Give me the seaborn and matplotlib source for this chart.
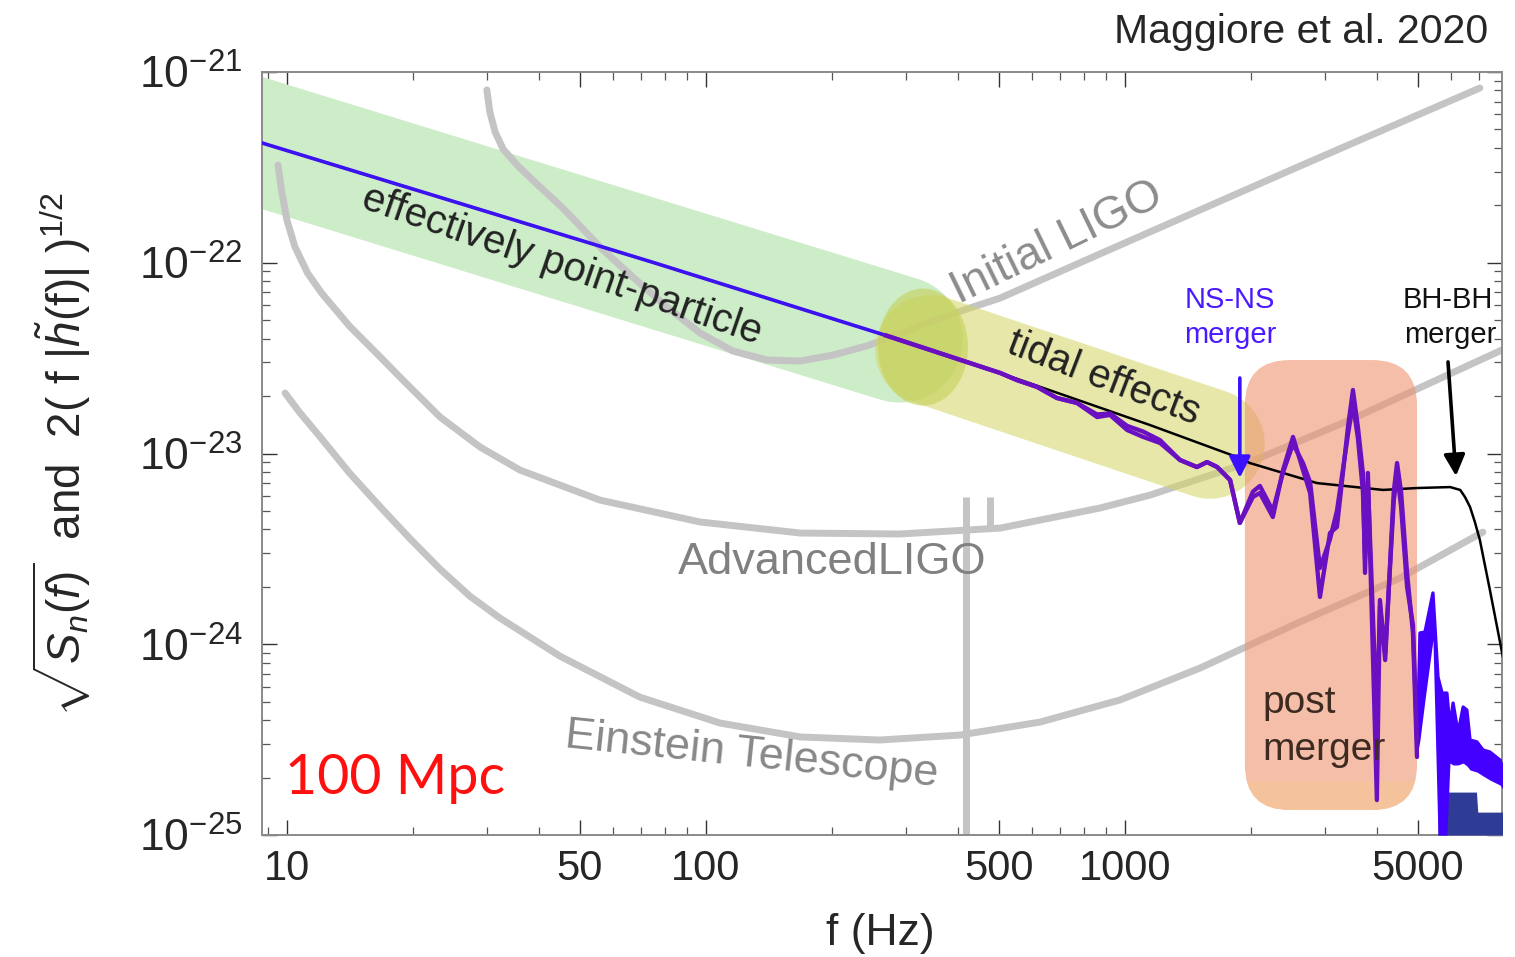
import numpy as np
import pandas as pd
import matplotlib
matplotlib.use("Agg")
import matplotlib.pyplot as plt
import seaborn as sns
from matplotlib.patches import FancyBboxPatch, Ellipse, Rectangle
from matplotlib.transforms import IdentityTransform

# ---------------- data (frequency in Hz, amplitude as log10 strain) ----------------
ini_f = [30.0, 30.5, 31.4, 32.8, 35.6, 39.7, 45.3, 50.6, 56.5, 66.9, 80.7, 96.8, 116, 140, 168,
         201, 242, 290, 348, 420, 504, 871, 2616, 7030]
ini_a = [-21.094, -21.210, -21.315, -21.404, -21.493, -21.592, -21.708, -21.818, -21.928, -22.075,
         -22.232, -22.368, -22.463, -22.510, -22.515, -22.484, -22.436, -22.374, -22.305, -22.242,
         -22.185, -21.954, -21.493, -21.084]

adv_f = [9.52, 9.73, 10.0, 10.45, 11.2, 12.1, 14.1, 16.7, 18.6, 23.2, 28.9, 36.0, 55.8, 96.8, 168,
         290, 504, 871, 1148, 1987, 3445, 7940]
adv_a = [-21.488, -21.634, -21.776, -21.917, -22.054, -22.159, -22.332, -22.494, -22.599, -22.809,
         -22.966, -23.087, -23.244, -23.359, -23.417, -23.422, -23.391, -23.286, -23.218, -23.045,
         -22.824, -22.457]
adv_spike_f = [417, 476]
adv_spike_bottom = [-25.0, -23.40]
adv_spike_top = [-23.228, -23.23]

et_f = [9.9, 10.7, 12.0, 14.1, 16.7, 19.7, 23.2, 27.3, 32.2, 44.8, 69.5, 108, 168, 260,
        404, 627, 973, 1510, 2615, 4530, 7150]
et_a = [-22.683, -22.782, -22.913, -23.102, -23.280, -23.448, -23.606, -23.747, -23.862, -24.062,
        -24.277, -24.413, -24.486, -24.502, -24.476, -24.408, -24.292, -24.125, -23.883, -23.653,
        -23.412]

bh_f = [8.72, 75.5, 267, 504, 1148, 1880, 1987, 2872, 4130, 4977, 5970, 6310, 6478, 6660, 6840, 7030, 7430, 7980]
bh_a = [-21.372, -22.001, -22.379, -22.578, -22.851, -23.024, -23.050, -23.155, -23.191, -23.181, -23.176,
        -23.191, -23.228, -23.28, -23.359, -23.453, -23.716, -24.067]

insp_f = [8.72, 75.5, 267]
insp_a = [-21.372, -22.001, -22.379]

ns_f = [267, 504, 552, 617, 688, 768, 858, 921, 1012, 1105, 1213, 1353, 1485, 1570, 1660, 1782, 1880,
        2020, 2099, 2254, 2383, 2518, 2660, 2766, 2920, 3085, 3206, 3406, 3500, 3597, 3697, 3740,
        3800, 3992, 4060, 4178, 4380, 4460, 4560, 4712, 4868, 4977]
ns_a1 = [-22.379, -22.578, -22.615, -22.651, -22.709, -22.735, -22.809, -22.798, -22.877, -22.913,
         -22.945, -23.034, -23.071, -23.045, -23.071, -23.139, -23.364, -23.228, -23.207, -23.333,
         -23.087, -22.913, -23.087, -23.207, -23.752, -23.417, -23.385, -22.861, -22.667, -22.861,
         -23.102, -23.626, -23.102, -24.817, -23.768, -24.083, -23.20, -23.05, -23.20, -23.626,
         -23.941, -24.591]
ns_a2 = [-22.379, -22.578, -22.615, -22.651, -22.709, -22.735, -22.795, -22.790, -22.855, -22.885,
         -22.930, -23.034, -23.071, -23.045, -23.071, -23.139, -23.364, -23.20, -23.17, -23.30,
         -23.10, -22.95, -23.05, -23.15, -23.60, -23.45, -23.30, -22.90, -22.74, -22.92,
         -23.20, -23.55, -23.15, -24.40, -23.80, -24.05, -23.25, -23.10, -23.28, -23.70,
         -23.90, -24.50]

tail_f = [4977, 5058, 5200, 5433, 5585, 5712, 5866, 5965, 6068, 6237, 6413, 6546, 6660, 6918, 7150, 7430, 7852, 7980]
tail_hi = [-24.591, -23.941, -23.936, -23.731, -24.172, -24.256, -24.256, -24.434, -24.308, -24.465,
           -24.329, -24.345, -24.502, -24.512, -24.554, -24.565, -24.607, -24.62]
tail_lo = [-24.591, -24.502, -24.292, -23.978, -25.0, -25.0, -25.0, -24.623, -24.633, -24.633,
           -24.623, -24.638, -24.659, -24.670, -24.69, -24.712, -24.738, -24.76]
floor_f = [5585, 6900, 6950, 7980]
floor_top = [-24.775, -24.775, -24.88, -24.88]

x_ticks = [10, 50, 100, 500, 1000, 5000]
x_ticklabels = ["10", "50", "100", "500", "1000", "5000"]
y_ticks = [1e-25, 1e-24, 1e-23, 1e-22, 1e-21]
y_ticklabels = [r"$10^{-25}$", r"$10^{-24}$", r"$10^{-23}$", r"$10^{-22}$", r"$10^{-21}$"]

# ---------------- style ----------------
sns.set_theme(style="ticks")
plt.rcParams["font.family"] = ["Liberation Sans", "DejaVu Sans"]
plt.rcParams["mathtext.fontset"] = "custom"
plt.rcParams["mathtext.rm"] = "Liberation Sans"
plt.rcParams["mathtext.it"] = "Liberation Sans:italic"
plt.rcParams["mathtext.bf"] = "Liberation Sans:bold"
plt.rcParams["lines.solid_joinstyle"] = "round"

GRAY = "#c4c4c4"
BLUE = "#3c12f2"
PURPLE = "#6a10c0"

W, H = 1515, 957
fig = plt.figure(figsize=(W / 100, H / 100), dpi=100)
ax = fig.add_axes([262 / W, 1 - 835 / H, 1240 / W, 763 / H])
ax.set_xscale("log")
ax.set_yscale("log")
ax.set_xlim(8.72, 7940)
ax.set_ylim(1e-25, 1e-21)
fig.canvas.draw()


def P(v):
    return 10.0 ** np.asarray(v, dtype=float)


def fpos(x, y):
    return (x / W, 1 - y / H)


# ---------------- shaded regions ----------------
gb_f = [4.0, 290.0]
gb_a = [-21.143, -22.402]
ax.plot(gb_f, P(gb_a), color="#cdecc8", lw=91, solid_capstyle="round", zorder=1)

yb_f = [342.6, 1595.0]
yb_a = [-22.457, -22.950]
ax.plot(yb_f, P(yb_a), color="#d5d564", alpha=0.55, lw=79, solid_capstyle="round", zorder=3)

cx, cy = ax.transData.transform((329.6, 10 ** -22.442))
ax.add_patch(Ellipse((cx, cy), 90, 117, transform=IdentityTransform(),
                     facecolor="#c5d157", alpha=0.6, edgecolor="none", zorder=3))

(x0, y0) = ax.transData.transform((1933, 10 ** -24.869))
(x1, y1) = ax.transData.transform((4977, 10 ** -22.510))
box = FancyBboxPatch((x0, y0), x1 - x0, y1 - y0, boxstyle="round,pad=0,rounding_size=45",
                     transform=IdentityTransform(), facecolor="#ee9371", alpha=0.6,
                     edgecolor="none", zorder=3)
ax.add_patch(box)
strip = Rectangle((x0, y0), x1 - x0, 28, transform=IdentityTransform(), facecolor="#f4c890",
                  alpha=0.55, edgecolor="none", zorder=3)
ax.add_patch(strip)
strip.set_clip_path(box)

# ---------------- noise curves ----------------
for f, a in [(ini_f, ini_a), (adv_f, adv_a), (et_f, et_a)]:
    sns.lineplot(x=f, y=P(a), ax=ax, color=GRAY, lw=5, sort=False, estimator=None,
                 legend=False, solid_capstyle="round", zorder=2)
for f, lo, hi in zip(adv_spike_f, adv_spike_bottom, adv_spike_top):
    ax.plot([f, f], P([lo, hi]), color=GRAY, lw=5, solid_capstyle="butt", zorder=2)

# ---------------- waveforms ----------------
sns.lineplot(x=bh_f, y=P(bh_a), ax=ax, color="black", lw=1.8, sort=False, estimator=None,
             legend=False, zorder=5)
sns.lineplot(x=insp_f, y=P(insp_a), ax=ax, color=BLUE, lw=2.6, sort=False, estimator=None,
             legend=False, zorder=6)
ax.fill_between(floor_f, 1e-25, P(floor_top), color="#2e3c96", lw=0, zorder=5)
ax.fill_between(tail_f, P(tail_lo), P(tail_hi), color="#4400ff", lw=0, zorder=6)
sns.lineplot(x=tail_f, y=P(tail_hi), ax=ax, color="#4400ff", lw=2.4, sort=False, estimator=None,
             legend=False, zorder=6)
sns.lineplot(x=ns_f, y=P(ns_a1), ax=ax, color=PURPLE, lw=3.1, sort=False, estimator=None,
             legend=False, zorder=7)
sns.lineplot(x=ns_f, y=P(ns_a2), ax=ax, color=PURPLE, lw=3.1, sort=False, estimator=None,
             legend=False, zorder=7)

ax.annotate("", xy=(1880, 10 ** -23.128), xytext=(1880, 10 ** -22.604),
            arrowprops=dict(arrowstyle="-|>", color="#3a10ff", lw=2.6, mutation_scale=32,
                            shrinkA=0, shrinkB=0), zorder=8)
ax.annotate("", xy=(6166, 10 ** -23.118), xytext=(5902, 10 ** -22.520),
            arrowprops=dict(arrowstyle="-|>", color="black", lw=2.6, mutation_scale=32,
                            shrinkA=0, shrinkB=0), zorder=8)

# ---------------- axes styling ----------------
ax.set_xticks(x_ticks)
ax.set_xticklabels(x_ticklabels, fontsize=30, family=["Liberation Sans Narrow", "Liberation Sans"])
ax.set_yticks(y_ticks)
ax.set_yticklabels(y_ticklabels, fontsize=32)
ax.tick_params(which="major", direction="in", length=11, width=1.0, color="#333333",
               top=True, right=True, pad=10)
ax.tick_params(which="minor", direction="in", length=5.5, width=0.9, color="#555555",
               top=True, right=True)
ax.tick_params(axis="y", which="major", pad=14)
for s in ax.spines.values():
    s.set_color("#8a8a8a")
    s.set_linewidth(1.4)
ax.set_xlabel("")
ax.set_ylabel("")

# ---------------- texts ----------------
fig.text(*fpos(880, 934), "f (Hz)", fontsize=32, ha="center", va="center",
         family=["Liberation Sans Narrow", "Liberation Sans"])
fig.text(*fpos(62, 455), r"$\sqrt{S_n(f)}$  and  2( f |$\tilde{h}$(f)| )$^{1/2}$", fontsize=33,
         rotation=90, ha="center", va="center")
fig.text(*fpos(1301, 32), "Maggiore et al. 2020", fontsize=29.5, ha="center", va="center")

fig.text(*fpos(562, 265), "effectively point-particle", fontsize=29, rotation=-19, ha="center",
         va="center", color="#222222", rotation_mode="anchor")
fig.text(*fpos(1104, 378), "tidal effects", fontsize=29, rotation=-21, ha="center", va="center",
         color="#222222", rotation_mode="anchor")
fig.text(*fpos(1057, 243), "Initial LIGO", fontsize=33, rotation=26, ha="center", va="center",
         color="#8c8c8c", rotation_mode="anchor")
fig.text(*fpos(832, 563), "AdvancedLIGO", fontsize=32.5, ha="center", va="center", color="#808080")
fig.text(*fpos(752, 755), "Einstein Telescope", fontsize=32.5, rotation=-6, ha="center", va="center",
         color="#888888", rotation_mode="anchor")
fig.text(*fpos(395, 778), "100 Mpc", fontsize=40, ha="center", va="center", color="#ff1010",
         family=["Lato", "DejaVu Sans"])
fig.text(*fpos(1230, 300), "NS-NS", fontsize=21, ha="center", va="center", color="#4b19ff")
fig.text(*fpos(1230, 335), "merger", fontsize=21, ha="center", va="center", color="#4b19ff")
fig.text(*fpos(1448, 300), "BH-BH", fontsize=21, ha="center", va="center", color="#111111")
fig.text(*fpos(1450, 335), "merger", fontsize=21, ha="center", va="center", color="#111111")
fig.text(*fpos(1262, 703), "post", fontsize=28, ha="left", va="center", color="#3d2b22", zorder=9)
fig.text(*fpos(1262, 750), "merger", fontsize=28, ha="left", va="center", color="#3d2b22", zorder=9)

fig.savefig("out.png", dpi=100)
